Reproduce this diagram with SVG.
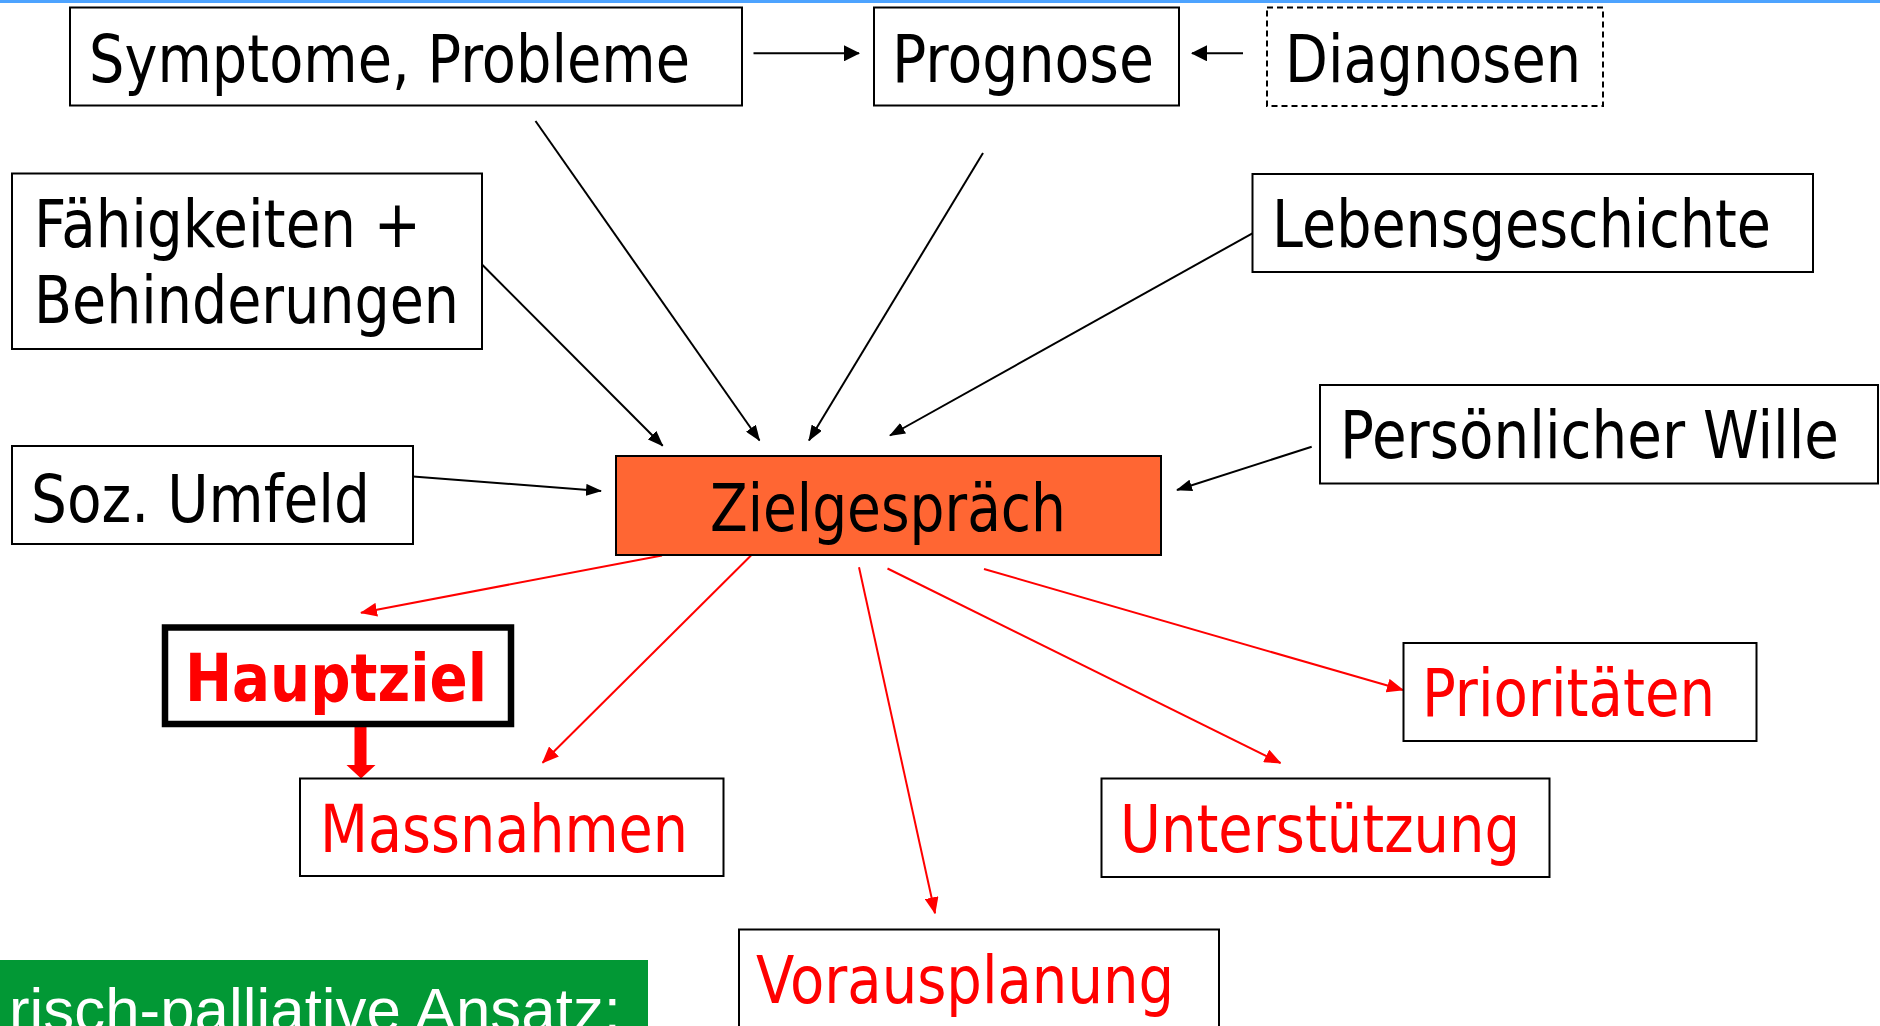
<svg xmlns="http://www.w3.org/2000/svg" width="1880" height="1026" viewBox="0 0 1880 1026">
<style>
.box{fill:#fff;stroke:#000;stroke-width:2}
.lbl{font-family:"DejaVu Sans","Liberation Sans",sans-serif;font-size:65px;fill:#000}
.red{fill:#ff0000}
.cb{stroke:#000;stroke-width:2;fill:none;marker-end:url(#ab)}
.cbw{stroke:#000;stroke-width:2;fill:none;marker-end:url(#abw)}
.cr{stroke:#ff0000;stroke-width:2;fill:none;marker-end:url(#ar)}
</style>
<defs>
<marker id="ab" markerUnits="userSpaceOnUse" markerWidth="16" markerHeight="12" refX="15" refY="6" orient="auto" viewBox="0 0 16 12"><path d="M0,0 L16,6 L0,12 z" fill="#000"/></marker>
<marker id="abw" markerUnits="userSpaceOnUse" markerWidth="16" markerHeight="16" refX="15" refY="8" orient="auto" viewBox="0 0 16 16"><path d="M0,0 L16,8 L0,16 z" fill="#000"/></marker>
<marker id="ar" markerUnits="userSpaceOnUse" markerWidth="17" markerHeight="14" refX="16" refY="7" orient="auto" viewBox="0 0 17 14"><path d="M0,0 L17,7 L0,14 z" fill="#ff0000"/></marker>
</defs>
<rect x="0" y="0" width="1880" height="1026" fill="#fff"/>
<rect x="0" y="0" width="1880" height="3" fill="#4da3ff"/>

<g id="connectors">
<line class="cbw" x1="753.5" y1="53.3" x2="859" y2="53.3"/>
<line class="cbw" x1="1243" y1="53.3" x2="1192" y2="53.3"/>
<line class="cb" x1="535.5" y1="121" x2="759.5" y2="440.5"/>
<line class="cb" x1="983" y1="153" x2="809" y2="440.5"/>
<line class="cb" x1="482" y1="264.5" x2="662.7" y2="445.7"/>
<line class="cb" x1="1252.4" y1="233.3" x2="890" y2="435.5"/>
<line class="cb" x1="406.5" y1="476" x2="601" y2="491"/>
<line class="cb" x1="1311.7" y1="446.7" x2="1177" y2="490"/>
<line class="cr" x1="662" y1="555.5" x2="361" y2="612.7"/>
<line class="cr" x1="751" y1="555.5" x2="542.6" y2="762.7"/>
<line class="cr" x1="859" y1="567.3" x2="935" y2="913.3"/>
<line class="cr" x1="887.5" y1="568.5" x2="1280.5" y2="763"/>
<line class="cr" x1="984" y1="569" x2="1403" y2="690"/>
<path d="M354.5,724 H366.5 V765 H375.5 L361,778.5 L346.5,765 H354.5 Z" fill="#ff0000"/>
</g>

<g id="symptome">
<rect class="box" x="70" y="7.5" width="672" height="98"/>
<text class="lbl" x="89" y="82" textLength="601" lengthAdjust="spacingAndGlyphs">Symptome, Probleme</text>
</g>
<g id="prognose">
<rect class="box" x="874" y="7.5" width="305" height="98"/>
<text class="lbl" x="892" y="82" textLength="262" lengthAdjust="spacingAndGlyphs">Prognose</text>
</g>
<g id="diagnosen">
<rect class="box" x="1267" y="7.5" width="336" height="98.5" stroke-dasharray="6 4"/>
<text class="lbl" x="1285" y="82" textLength="296" lengthAdjust="spacingAndGlyphs">Diagnosen</text>
</g>
<g id="faehigkeiten">
<rect class="box" x="12" y="173.5" width="470" height="175.5"/>
<text class="lbl" x="34" y="247" textLength="387" lengthAdjust="spacingAndGlyphs">Fähigkeiten +</text>
<text class="lbl" x="34" y="323" textLength="425" lengthAdjust="spacingAndGlyphs">Behinderungen</text>
</g>
<g id="umfeld">
<rect class="box" x="12" y="446" width="401" height="98"/>
<text class="lbl" x="31" y="522" textLength="339" lengthAdjust="spacingAndGlyphs">Soz. Umfeld</text>
</g>
<g id="zielgespraech">
<rect class="box" x="616" y="456" width="545" height="99" style="fill:#ff6633"/>
<text class="lbl" x="710" y="531" textLength="356" lengthAdjust="spacingAndGlyphs">Zielgespräch</text>
</g>
<g id="lebensgeschichte">
<rect class="box" x="1252.5" y="174" width="560.5" height="98"/>
<text class="lbl" x="1272" y="247" textLength="499" lengthAdjust="spacingAndGlyphs">Lebensgeschichte</text>
</g>
<g id="wille">
<rect class="box" x="1320" y="385" width="558" height="98.5"/>
<text class="lbl" x="1340" y="458" textLength="499" lengthAdjust="spacingAndGlyphs">Persönlicher Wille</text>
</g>
<g id="hauptziel">
<rect x="165" y="627.5" width="346" height="96.5" fill="#fff" stroke="#000" stroke-width="6.5"/>
<text class="lbl red" x="185" y="701" font-size="64" font-weight="bold" textLength="302" lengthAdjust="spacingAndGlyphs">Hauptziel</text>
</g>
<g id="massnahmen">
<rect class="box" x="300" y="778.5" width="423.5" height="97.5"/>
<text class="lbl red" x="320" y="852" textLength="368" lengthAdjust="spacingAndGlyphs">Massnahmen</text>
</g>
<g id="prioritaeten">
<rect class="box" x="1403.5" y="643" width="353" height="98"/>
<text class="lbl red" x="1422" y="716" textLength="293" lengthAdjust="spacingAndGlyphs">Prioritäten</text>
</g>
<g id="unterstuetzung">
<rect class="box" x="1101.5" y="778.5" width="448" height="98.5"/>
<text class="lbl red" x="1120" y="852" textLength="400" lengthAdjust="spacingAndGlyphs">Unterstützung</text>
</g>
<g id="vorausplanung">
<rect class="box" x="739" y="929.5" width="480" height="120"/>
<text class="lbl red" x="756" y="1003" textLength="418" lengthAdjust="spacingAndGlyphs">Vorausplanung</text>
</g>
<g id="ansatz">
<rect x="0" y="960" width="648" height="66" fill="#029835"/>
<text x="9" y="1031" font-family="'Liberation Sans',Arial,sans-serif" font-size="61" fill="#fff" textLength="612" lengthAdjust="spacingAndGlyphs">risch-palliative Ansatz:</text>
</g>
</svg>
